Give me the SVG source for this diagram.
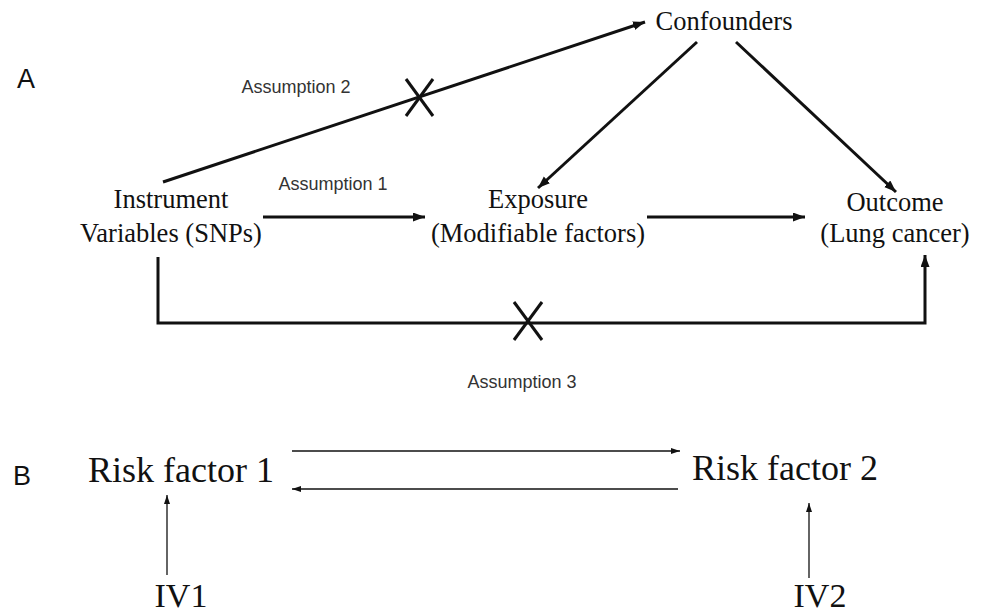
<svg xmlns="http://www.w3.org/2000/svg" width="985" height="615" viewBox="0 0 985 615">
<style>
.serif{font-family:"Liberation Serif","Times New Roman",serif;fill:#111;text-anchor:middle}
.a{font-size:26.5px}
.b{font-size:36px}
.c{font-size:34px}
.lab{font-family:"Liberation Sans",Arial,sans-serif;font-size:18px;fill:#333;text-anchor:middle}
.panel{font-family:"Liberation Sans",Arial,sans-serif;font-size:27px;fill:#111}
.thick{stroke:#111;stroke-width:3;fill:none}
.thin{stroke:#111;stroke-width:1.3;fill:none}
</style>
<defs>
<marker id="ah" markerUnits="userSpaceOnUse" markerWidth="13" markerHeight="10" refX="12" refY="4.5" orient="auto">
<path d="M0,0 L12,4.5 L0,9 z" fill="#111"/>
</marker>
<marker id="as" markerUnits="userSpaceOnUse" markerWidth="10" markerHeight="7" refX="9" refY="3" orient="auto">
<path d="M0,0 L9,3 L0,6 z" fill="#111"/>
</marker>
</defs>
<rect width="985" height="615" fill="#fff"/>
<text class="panel" x="17" y="88">A</text>
<text class="panel" x="13" y="485">B</text>
<g id="connectors">
<line class="thick" x1="163" y1="182" x2="645" y2="22" marker-end="url(#ah)"/>
<line class="thick" x1="406" y1="79" x2="433" y2="116"/>
<line class="thick" x1="433" y1="79" x2="406" y2="116"/>
<line class="thick" x1="263" y1="217" x2="425" y2="217" marker-end="url(#ah)"/>
<line class="thick" x1="647" y1="217" x2="805" y2="217" marker-end="url(#ah)"/>
<line class="thick" x1="697" y1="42" x2="538" y2="188" marker-end="url(#ah)"/>
<line class="thick" x1="736" y1="42" x2="896" y2="192" marker-end="url(#ah)"/>
<path class="thick" d="M158,257 V323 H925 V255" marker-end="url(#ah)"/>
<line class="thick" x1="514" y1="302" x2="542" y2="340"/>
<line class="thick" x1="542" y1="302" x2="514" y2="340"/>
<text class="lab" x="296" y="93">Assumption 2</text>
<text class="lab" x="333" y="190">Assumption 1</text>
<text class="lab" x="522" y="388">Assumption 3</text>
<line class="thin" x1="292" y1="451" x2="680" y2="451" marker-end="url(#as)"/>
<line class="thin" x1="678" y1="489" x2="292" y2="489" marker-end="url(#as)"/>
<line class="thin" x1="167" y1="575" x2="167" y2="495" marker-end="url(#as)"/>
<line class="thin" x1="809" y1="578" x2="809" y2="503" marker-end="url(#as)"/>
</g>
<g id="confounders"><text class="serif a" x="724" y="30">Confounders</text></g>
<g id="instrument"><text class="serif a" x="171" y="208">Instrument</text><text class="serif a" x="171" y="242">Variables (SNPs)</text></g>
<g id="exposure"><text class="serif a" x="538" y="208">Exposure</text><text class="serif a" x="538" y="242">(Modifiable factors)</text></g>
<g id="outcome"><text class="serif a" x="895" y="211">Outcome</text><text class="serif a" x="895" y="242">(Lung cancer)</text></g>
<g id="rf1"><text class="serif b" x="181" y="482">Risk factor 1</text></g>
<g id="rf2"><text class="serif b" x="785" y="480">Risk factor 2</text></g>
<g id="iv1"><text class="serif c" x="181" y="607">IV1</text></g>
<g id="iv2"><text class="serif c" x="820" y="607">IV2</text></g>
</svg>
